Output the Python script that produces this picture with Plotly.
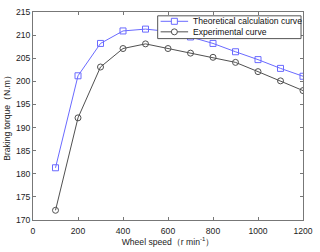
import plotly.graph_objects as go

speed = [100, 200, 300, 400, 500, 600, 700, 800, 900, 1000, 1100, 1200]
theoretical = [181.3, 201.2, 208.2, 210.9, 211.3, 210.8, 209.6, 208.2, 206.4, 204.7, 202.8, 201.1]
experimental = [172.1, 192.1, 203.1, 207.1, 208.1, 207.1, 206.1, 205.2, 204.1, 202.1, 200.1, 198.0]
series_names = ["Theoretical calculation curve", "Experimental curve"]
series_colors = ["#6a6aff", "#505050"]

x_ticks = [0, 200, 400, 600, 800, 1000, 1200]
y_ticks = [170, 175, 180, 185, 190, 195, 200, 205, 210, 215]

FONT = "Liberation Sans, Arial"

fig = go.Figure()
fig.add_trace(go.Scatter(
    x=speed, y=theoretical, mode="lines+markers", name=series_names[0],
    line=dict(color=series_colors[0], width=1),
    marker=dict(symbol="square-open", size=6, color=series_colors[0], line=dict(width=1)),
    showlegend=False,
))
fig.add_trace(go.Scatter(
    x=speed, y=experimental, mode="lines+markers", name=series_names[1],
    line=dict(color=series_colors[1], width=1),
    marker=dict(symbol="circle-open", size=6, color=series_colors[1], line=dict(width=1)),
    showlegend=False,
))

axis_common = dict(
    showgrid=False, zeroline=False, showline=True, linecolor="#777777", linewidth=1,
    mirror="ticks", ticks="inside", ticklen=3, tickcolor="#777777",
    tickfont=dict(family=FONT, size=8.6, color="#222222"),
)

# Custom compact legend (MATLAB-like) in paper coordinates
fig.add_shape(type="rect", xref="paper", yref="paper", x0=0.4618, x1=0.9927, y0=0.872, y1=0.9816,
              line=dict(color="#555555", width=1), fillcolor="white", opacity=1, layer="above")
rows_y = [0.9553, 0.9046]
symbols = ["square", "circle"]
for name, color, yy, sym in zip(series_names, series_colors, rows_y, symbols):
    fig.add_shape(type="line", xref="paper", yref="paper", x0=0.4727, x1=0.5745, y0=yy, y1=yy,
                  line=dict(color=color, width=1), layer="above")
    fig.add_shape(type="rect" if sym == "square" else "circle", xref="paper", yref="paper",
                  xsizemode="pixel", ysizemode="pixel",
                  xanchor=0.5236, yanchor=yy, x0=-3, x1=3, y0=-3, y1=3,
                  line=dict(color=color, width=1), fillcolor="white", layer="above")
    fig.add_annotation(xref="paper", yref="paper", x=0.5855, y=yy, xanchor="left", yanchor="middle",
                       text=name, showarrow=False, font=dict(family=FONT, size=8.6, color="#111111"))

fig.update_layout(
    width=320, height=252,
    margin=dict(l=32, r=13, t=7, b=28),
    paper_bgcolor="white", plot_bgcolor="white",
    font=dict(family=FONT, size=8.6, color="#222222"),
    xaxis=dict(range=[0, 1200], tickvals=x_ticks, ticklabelstandoff=3,
               title=dict(text="Wheel speed（r min<sup>-1</sup>）", standoff=3, font=dict(size=8.6)),
               **axis_common),
    yaxis=dict(range=[170, 215], tickvals=y_ticks,
               title=dict(text="Braking torque（N.m）", standoff=3, font=dict(size=8.6)),
               **axis_common),
    showlegend=False,
)

fig.write_html("out.html", config={"displayModeBar": False},
               post_script="document.body.style.margin='0';document.body.style.overflow='hidden';")
